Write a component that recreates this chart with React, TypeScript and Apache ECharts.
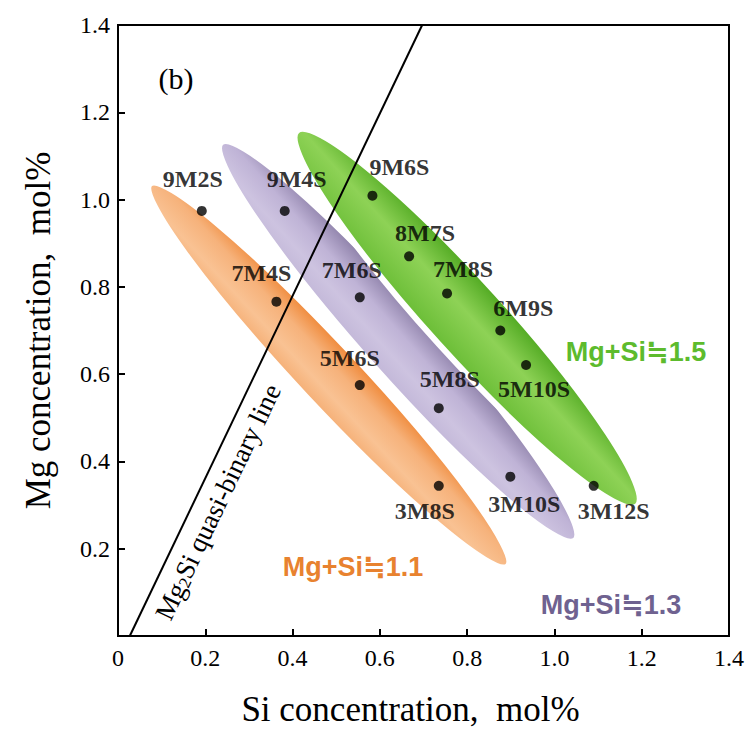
import React, { useEffect, useRef } from 'react';
import * as echarts from 'echarts';

// ---- data ----
const sampleNames = ['9M2S', '9M4S', '9M6S', '8M7S', '7M4S', '7M6S', '7M8S', '6M9S', '5M6S', '5M8S', '5M10S', '3M8S', '3M10S', '3M12S'];
const siValues = [0.192, 0.382, 0.583, 0.667, 0.363, 0.554, 0.754, 0.876, 0.554, 0.735, 0.935, 0.735, 0.899, 1.09];
const mgValues = [0.974, 0.974, 1.009, 0.87, 0.766, 0.776, 0.785, 0.7, 0.575, 0.522, 0.621, 0.344, 0.365, 0.344];

const groupNames = ['Mg+Si≒1.1', 'Mg+Si≒1.3', 'Mg+Si≒1.5'];
const ellipseCenterSi = [0.483, 0.642, 0.8];
const ellipseCenterMg = [0.598, 0.675, 0.728];
const ellipseSemiMajor = [0.6, 0.61, 0.58];
const ellipseSemiMinor = [0.072, 0.08, 0.088];
const ellipseAngleDeg = [-46.9, -48.3, -47.8];

const binaryLineSi = [0.027, 0.697];
const binaryLineMg = [0, 1.4];

const axisMin = 0;
const axisMax = 1.4;
const axisStep = 0.2;

// ---- layout / style (not data) ----
const labelOffsets = [[-9, -32], [12, -32], [27, -29], [16, -23], [-15, -29], [-8, -27], [16, -24], [23, -23], [-10, -27], [11, -29], [8, 24], [-14, 25], [14, 27], [20, 25]];
const groupColors = ['#E8822F', '#6F6290', '#5DBB2D'];
const groupLabelPos = [[353, 567], [611, 605], [636, 352]];
const ellipseStops = [
  [[0, '#EF8736'], [0.35, '#F6B27B'], [0.7, '#F9C293'], [1, '#F5AE74']],
  [[0, '#877AA3'], [0.4, '#BFB3D6'], [0.7, '#CDC3E0'], [1, '#C2B7D8']],
  [[0, '#4FA820'], [0.45, '#8ED256'], [1, '#6ABD36']],
];
const SERIF = "'Liberation Serif', 'Times New Roman', serif";
const SANS = "'Liberation Sans', 'DejaVu Sans', 'Noto Sans CJK SC', sans-serif";

export default function App() {
  const ref = useRef<HTMLDivElement>(null);
  useEffect(() => {
    if (!ref.current) return;
    const chart = echarts.init(ref.current, null, { renderer: 'svg' });
    const gradients = ellipseStops.map(
      (stops) => new echarts.graphic.LinearGradient(0, 0, 0, 1, stops.map(([o, c]) => ({ offset: o as number, color: c as string })))
    );
    const ellipseData = groupNames.map((n, i) => ({
      name: n,
      value: [ellipseCenterSi[i], ellipseCenterMg[i], ellipseSemiMajor[i], ellipseSemiMinor[i], ellipseAngleDeg[i]],
    }));
    const axisLabelFmt = (v: number) => (v === 0 ? '0' : v.toFixed(1));
    chart.setOption({
      animation: false,
      grid: { left: 118, right: 17, top: 25, bottom: 97, show: true, borderColor: '#000', borderWidth: 2, backgroundColor: 'transparent' },
      xAxis: {
        type: 'value', min: axisMin, max: axisMax, interval: axisStep,
        axisLine: { lineStyle: { color: '#000', width: 2 } },
        axisTick: { inside: true, length: 7, lineStyle: { color: '#000', width: 2 } },
        splitLine: { show: false },
        axisLabel: { formatter: axisLabelFmt, fontFamily: SERIF, fontSize: 24, color: '#000', margin: 10 },
        name: 'Si concentration,  mol%', nameLocation: 'middle', nameGap: 56,
        nameTextStyle: { fontFamily: SERIF, fontSize: 35, color: '#000', padding: [0, 26, 0, 0] },
      },
      yAxis: {
        type: 'value', min: axisMin, max: axisMax, interval: axisStep,
        axisLine: { lineStyle: { color: '#000', width: 2 } },
        axisTick: { inside: true, length: 7, lineStyle: { color: '#000', width: 2 } },
        splitLine: { show: false },
        axisLabel: { formatter: (v: number) => (v === 0 ? '' : v.toFixed(1)), fontFamily: SERIF, fontSize: 24, color: '#000', margin: 8 },
        name: 'Mg concentration,  mol%', nameLocation: 'middle', nameGap: 62,
        nameTextStyle: { fontFamily: SERIF, fontSize: 35, color: '#000' },
      },
      series: [
        {
          type: 'custom', z: 1, silent: true,
          encode: { x: 0, y: 1 },
          data: ellipseData,
          renderItem: (params: any, api: any) => {
            const c = api.coord([api.value(0), api.value(1)]);
            const a = api.size([api.value(2), 0])[0];
            const b = api.size([0, api.value(3)])[1];
            return {
              type: 'ellipse', x: c[0], y: c[1], rotation: (api.value(4) * Math.PI) / 180,
              shape: { cx: 0, cy: 0, rx: a, ry: b },
              style: { fill: gradients[params.dataIndex], stroke: '#fff', lineWidth: 6 },
            };
          },
        },
        {
          type: 'line', z: 2, silent: true, symbol: 'none',
          data: binaryLineSi.map((x, i) => [x, binaryLineMg[i]]),
          lineStyle: { color: '#000', width: 2 },
        },
        {
          type: 'scatter', z: 3, symbolSize: 10,
          itemStyle: { color: '#000' },
          label: { show: true, position: 'inside', formatter: '{b}', fontFamily: SERIF, fontWeight: 'bold', fontSize: 24, color: '#000', textBorderWidth: 0 },
          data: sampleNames.map((n, i) => ({ name: n, value: [siValues[i], mgValues[i]], label: { offset: labelOffsets[i] } })),
        },
      ],
      graphic: [
        { type: 'text', x: 176, y: 78, style: { text: '(b)', font: `30px ${SERIF}`, fill: '#000', align: 'center', verticalAlign: 'middle' } },
        {
          type: 'text', x: 218, y: 502, rotation: (64.5 * Math.PI) / 180,
          style: {
            text: '{a|Mg}{s|2}{a|Si quasi-binary line}', align: 'center', verticalAlign: 'middle',
            rich: {
              a: { fontSize: 27, fontFamily: SERIF, fill: '#000', lineHeight: 27, padding: [0, 0, 5, 0], verticalAlign: 'top' },
              s: { fontSize: 17, fontFamily: SERIF, fill: '#000', lineHeight: 17, verticalAlign: 'bottom' },
            },
          },
        },
        ...groupNames.map((n, i) => ({
          type: 'text', x: groupLabelPos[i][0], y: groupLabelPos[i][1],
          style: { text: n, font: `bold 27px ${SANS}`, fill: groupColors[i], align: 'center', verticalAlign: 'middle' },
        })),
      ],
    });
    return () => chart.dispose();
  }, []);
  return <div ref={ref} style={{ position: 'absolute', left: 0, top: 0, width: 747, height: 733 }} />;
}
